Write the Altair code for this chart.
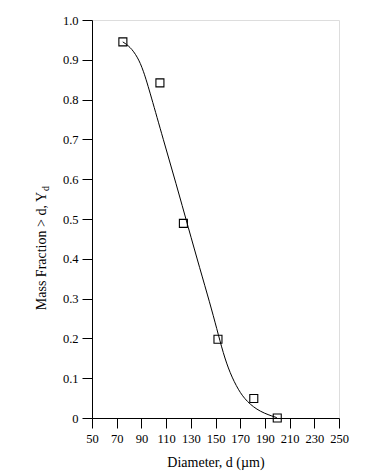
import altair as alt
import pandas as pd

# measured points (squares)
pt_d = [75, 105, 124, 152, 181, 200]
pt_y = [0.945, 0.842, 0.489, 0.198, 0.049, 0.0]

# smooth fitted curve
cv_d = [74.9, 80.8, 86.7, 91.5, 97.5, 107.7, 118.0, 128.0, 137.4,
        145.5, 151.0, 156.3, 161.7, 168.5, 175.3, 186.0, 199.6]
cv_y = [0.945, 0.933, 0.908, 0.875, 0.812, 0.700, 0.590, 0.478, 0.375,
        0.288, 0.225, 0.162, 0.113, 0.070, 0.041, 0.015, 0.001]

x_ticks = list(range(50, 251, 20))
y_ticks = [round(i * 0.1, 1) for i in range(11)]

FONT = "Liberation Serif"

pts = pd.DataFrame({"d": pt_d, "y": pt_y})
cv = pd.DataFrame({"d": cv_d, "y": cv_y})

xs = alt.Scale(domain=[50, 250], nice=False, zero=False)
ys = alt.Scale(domain=[0, 1.0], nice=False)

x_axis = alt.Axis(values=x_ticks, title="Diameter, d (\u00b5m)", grid=False,
                  tickSize=10, labelFontSize=12.5, titleFontSize=14,
                  labelPadding=4, titlePadding=11, labelFont=FONT, titleFont=FONT,
                  labelOverlap=False, labelFlush=False, labelBound=False,
                  titleFontWeight="normal", domainColor="black", tickColor="black",
                  labelColor="black", titleColor="black")
y_axis = alt.Axis(values=y_ticks, title=None, grid=False, tickSize=10,
                  labelFontSize=12.5, labelPadding=4, labelFont=FONT,
                  labelOverlap=False, labelFlush=False, labelBound=False,
                  labelExpr="datum.value == 0 ? '0' : format(datum.value, '.1f')",
                  domainColor="black", tickColor="black", labelColor="black")

line = alt.Chart(cv).mark_line(color="black", strokeWidth=1, interpolate="basis").encode(
    x=alt.X("d:Q", scale=xs, axis=x_axis),
    y=alt.Y("y:Q", scale=ys, axis=y_axis),
)

sq = alt.Chart(pts).mark_point(shape="square", size=64, filled=False, color="black",
                               strokeWidth=1.1, opacity=1).encode(
    x=alt.X("d:Q", scale=xs, axis=x_axis),
    y=alt.Y("y:Q", scale=ys, axis=y_axis),
)

title_main = alt.Chart(pd.DataFrame({"t": ["Mass Fraction > d, Y"]})).mark_text(
    angle=270, align="right", baseline="middle", font=FONT, fontSize=14, color="black"
).encode(x=alt.value(-50), y=alt.value(172), text="t:N")

title_sub = alt.Chart(pd.DataFrame({"t": ["d"]})).mark_text(
    angle=270, align="left", baseline="middle", font=FONT, fontSize=10, color="black"
).encode(x=alt.value(-46), y=alt.value(171), text="t:N")

chart = alt.layer(line, sq, title_main, title_sub).properties(
    width=247, height=398,
    autosize=alt.AutoSizeParams(type="none"),
    padding={"left": 92, "top": 20, "right": 45, "bottom": 58},
).configure_view(stroke="black", strokeWidth=1).configure(background="white")

chart.save("out.html", embed_options={"renderer": "svg", "actions": False})
